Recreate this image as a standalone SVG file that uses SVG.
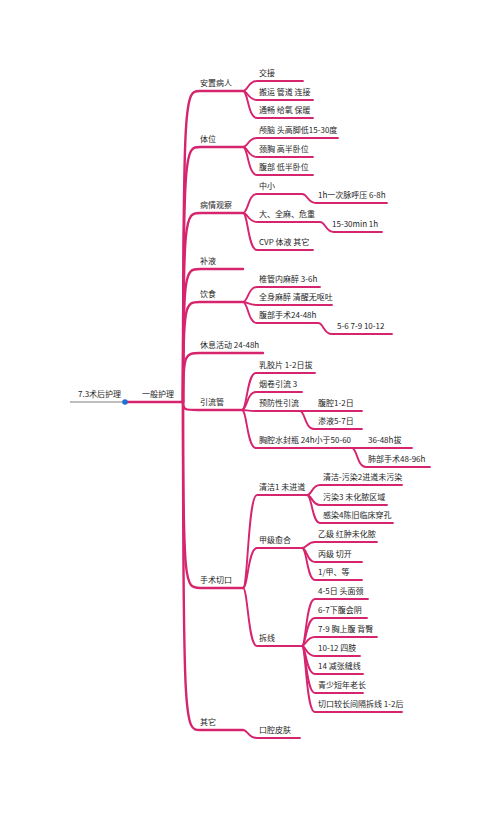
<svg xmlns="http://www.w3.org/2000/svg" width="500" height="819" viewBox="0 0 500 819">
<style>
text{font-family:"Noto Sans CJK SC","Noto Sans",sans-serif;font-size:8px;fill:#1e1e1e}
.l1{fill:none;stroke:#d6246e;stroke-width:2.4;stroke-linecap:round}
.l2{fill:none;stroke:#d6246e;stroke-width:1.9;stroke-linecap:round}
</style>
<rect width="500" height="819" fill="#fff"/>
<g id="connectors">
<line x1="70" y1="402" x2="125" y2="402" stroke="#a8a8a8" stroke-width="1.6"/>
<path class="l1" d="M125,402 H183"/>
<path class="l1" d="M183,402 C183,91 185,91 200,91 H243"/>
<path class="l1" d="M183,402 C183,147 185,147 200,147 H243"/>
<path class="l1" d="M183,402 C183,213 185,213 200,213 H243"/>
<path class="l1" d="M183,402 C183,269 185,269 200,269 H243"/>
<path class="l1" d="M183,402 C183,302 185,302 200,302 H243"/>
<path class="l1" d="M183,402 C183,353 185,353 200,353 H263"/>
<path class="l1" d="M183,402 C183,410 185,410 198,410 H242"/>
<path class="l1" d="M183,402 C183,588 185,588 200,588 H243"/>
<path class="l1" d="M183,402 C183,730 185,730 200,730 H243"/>
<!-- 安置病人 -->
<path class="l2" d="M243,91 C248,91 248,81 257,81 H303"/>
<path class="l2" d="M243,91 C248,91 248,100 257,100 H313"/>
<path class="l2" d="M243,91 C248,91 248,118 257,118 H313"/>
<!-- 体位 -->
<path class="l2" d="M243,147 C248,147 248,138 257,138 H338"/>
<path class="l2" d="M243,147 C248,147 248,157 257,157 H313"/>
<path class="l2" d="M243,147 C248,147 248,175 257,175 H313"/>
<!-- 病情观察 -->
<path class="l2" d="M243,213 C248,213 248,194 257,194 H302 C308,194 307,203 316,203 H387"/>
<path class="l2" d="M243,213 C248,213 248,222 257,222 H320 C326,222 325,232 334,232 H382"/>
<path class="l2" d="M243,213 C248,213 248,250 257,250 H313"/>
<!-- 饮食 -->
<path class="l2" d="M243,302 C248,302 248,287 257,287 H320"/>
<path class="l2" d="M243,302 C248,302 248,305 257,305 H332"/>
<path class="l2" d="M243,302 C248,302 248,323 257,323 H318 C324,323 323,334 332,334 H392"/>
<!-- 引流管 -->
<path class="l2" d="M242,410 C247,410 247,373 256,373 H315"/>
<path class="l2" d="M242,410 C247,410 247,392 256,392 H302"/>
<path class="l2" d="M242,410 C247,410 247,411 256,411 H362"/>
<path class="l2" d="M300,411 C305,411 305,429 314,429 H362"/>
<path class="l2" d="M242,410 C247,410 247,448 256,448 H412"/>
<path class="l2" d="M352,448 C357,448 357,467 366,467 H430"/>
<!-- 手术切口 -->
<path class="l2" d="M243,588 C248,588 248,495 257,495 H307"/>
<path class="l2" d="M307,495 C312,495 312,485 320,485 H402"/>
<path class="l2" d="M307,495 C312,495 312,505 320,505 H387"/>
<path class="l2" d="M307,495 C312,495 312,523 320,523 H393"/>
<path class="l2" d="M243,588 C248,588 248,548 257,548 H302"/>
<path class="l2" d="M302,548 C307,548 307,542 315,542 H377"/>
<path class="l2" d="M302,548 C307,548 307,562 315,562 H362"/>
<path class="l2" d="M302,548 C307,548 307,580 315,580 H362"/>
<path class="l2" d="M243,588 C248,588 248,646 257,646 H302"/>
<path class="l2" d="M302,646 C306,646 306,599 315,599 H368"/>
<path class="l2" d="M302,646 C306,646 306,618 315,618 H367"/>
<path class="l2" d="M302,646 C306,646 306,637 315,637 H377"/>
<path class="l2" d="M302,646 C306,646 306,656 315,656 H360"/>
<path class="l2" d="M302,646 C306,646 306,674 315,674 H363"/>
<path class="l2" d="M302,646 C306,646 306,693 315,693 H363"/>
<path class="l2" d="M302,646 C306,646 306,712 315,712 H402"/>
<!-- 其它 -->
<path class="l2" d="M243,730 C248,730 248,738 257,738 H300"/>
<circle cx="125" cy="402" r="2.8" fill="#1f6fd6"/>
</g>
<g id="root"><text x="78" y="397">7.3术后护理</text></g>
<g id="n-general"><text x="142" y="397">一般护理</text></g>
<g id="n-anzhi"><text x="200" y="86">安置病人</text>
<text x="259" y="76">交接</text><text x="259" y="95">搬运 管道 连接</text><text x="259" y="113">通畅 给氧 保暖</text></g>
<g id="n-tiwei"><text x="200" y="142">体位</text>
<text x="259" y="133">颅脑 头高脚低15-30度</text><text x="259" y="152">颈胸 高半卧位</text><text x="259" y="170">腹部 低半卧位</text></g>
<g id="n-bingqing"><text x="200" y="208">病情观察</text>
<text x="259" y="189">中小</text><text x="318" y="198">1h一次脉呼压 6-8h</text>
<text x="259" y="217">大、全麻、危重</text><text x="332" y="227">15-30min 1h</text>
<text x="259" y="245">CVP 体液 其它</text></g>
<g id="n-buye"><text x="200" y="264">补液</text></g>
<g id="n-yinshi"><text x="200" y="297">饮食</text>
<text x="259" y="282">椎管内麻醉 3-6h</text><text x="259" y="300">全身麻醉 清醒无呕吐</text>
<text x="259" y="318">腹部手术24-48h</text><text x="337" y="329">5-6 7-9 10-12</text></g>
<g id="n-xiuxi"><text x="200" y="348">休息活动 24-48h</text></g>
<g id="n-yinliu"><text x="200" y="405">引流管</text>
<text x="259" y="368">乳胶片 1-2日拔</text><text x="259" y="387">烟卷引流 3</text>
<text x="259" y="406">预防性引流</text><text x="318" y="406">腹腔1-2日</text><text x="318" y="424">渗液5-7日</text>
<text x="259" y="443">胸腔水封瓶 24h小于50-60</text><text x="368" y="443">36-48h拔</text><text x="368" y="462">肺部手术48-96h</text></g>
<g id="n-qiekou"><text x="200" y="583">手术切口</text>
<text x="259" y="490">清洁1 未进道</text>
<text x="323" y="480">清洁-污染2进道未污染</text><text x="323" y="500">污染3 未化脓区域</text><text x="323" y="518">感染4陈旧临床穿孔</text>
<text x="259" y="543">甲级愈合</text>
<text x="318" y="537">乙级 红肿未化脓</text><text x="318" y="557">丙级 切开</text><text x="318" y="575">1/甲、等</text>
<text x="259" y="641">拆线</text>
<text x="318" y="594">4-5日 头面颈</text><text x="318" y="613">6-7下腹会阴</text><text x="318" y="632">7-9 胸上腹 背臀</text>
<text x="318" y="651">10-12 四肢</text><text x="318" y="669">14 减张缝线</text><text x="318" y="688">青少短年老长</text>
<text x="318" y="707">切口较长间隔拆线 1-2后</text></g>
<g id="n-qita"><text x="200" y="725">其它</text><text x="259" y="733">口腔皮肤</text></g>
</svg>
